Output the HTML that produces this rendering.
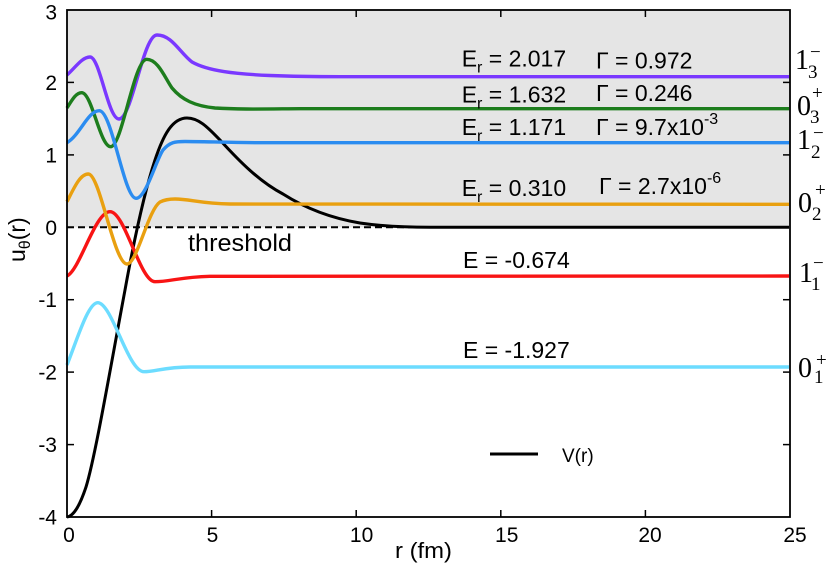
<!DOCTYPE html>
<html>
<head>
<meta charset="utf-8">
<style>
html,body{margin:0;padding:0;background:#fff;}
svg{display:block;}
text{font-family:"Liberation Sans",sans-serif;fill:#000;}
.serif{font-family:"Liberation Serif",serif;}
</style>
</head>
<body>
<svg width="830" height="567" viewBox="0 0 830 567" xmlns="http://www.w3.org/2000/svg">
  <rect x="67" y="10" width="723" height="217.3" fill="#e5e5e5"/>

  <line x1="67" y1="227.3" x2="789" y2="227.3" stroke="#000" stroke-width="2" stroke-dasharray="7,4"/>

  <path d="M67,517 C74,516 80,505 86,487 C95,458 110,370 125,290 C135,235 145,190 155,160 C163,136 172,118 187,118 C200,118 210,130 220,140 C240,162 260,182 283,194 C305,208 330,218 360,223 C380,226 400,227.3 430,227.3 L789,227.3" fill="none" stroke="#000" stroke-width="3"/>

  <path d="M67,365 C77,340 88,302.7 97.7,302.7 C112,302.7 128,371.7 144,371.7 C155,371.7 165,367 190,367 L789,367" fill="none" stroke="#6cdcff" stroke-width="3.4"/>

  <path d="M67,276 C80,270 95,211.7 110,211.7 C125,211.7 140,281.7 155,281.7 C170,281.7 180,277 210,276.3 L789,276" fill="none" stroke="#f81414" stroke-width="3.4"/>

  <path d="M67,201.7 C74,188 80,174 88.3,174 C100,174 114,264 127,264 C137,264 148,210 160,202 C165,199.5 170,199 175,199 C190,199 200,203.5 230,204 L789,204.3" fill="none" stroke="#e9a010" stroke-width="3.4"/>

  <path d="M67,75 C75,68 82,57 90,57 C100,57 108,119 119,119 C132,119 143,35 157,35 C172,35 180,53 192,62 C208,71 235,74 270,75.5 C290,76.3 310,76.7 340,76.7 L789,76.7" fill="none" stroke="#7a38ff" stroke-width="3.4"/>

  <path d="M67,108 C72,100 76,92.7 81.7,92.7 C92,92.7 100,146.7 110.7,146.7 C122,146.7 134,59.3 146.7,59.3 C158,59.3 165,78 172,88 C182,100 195,106 215,108 C240,109.5 260,109 300,108.7 L789,108.7" fill="none" stroke="#1d7d1d" stroke-width="3.4"/>

  <path d="M67,142.7 C80,135 88,110.7 99.3,110.7 C112,110.7 124,198.3 136,198.3 C146,198.3 156,160 163,150 C170,142 175,141.5 185,141.5 C200,141.5 230,142.5 260,142.7 L789,142.7" fill="none" stroke="#2b8cf0" stroke-width="3.4"/>

  <rect x="67" y="10" width="723" height="507" fill="none" stroke="#000" stroke-width="1.8"/>

  <g stroke="#000" stroke-width="1.5">
    <line x1="67" y1="82.4" x2="74" y2="82.4"/>
    <line x1="67" y1="154.9" x2="74" y2="154.9"/>
    <line x1="67" y1="227.3" x2="74" y2="227.3"/>
    <line x1="67" y1="299.7" x2="74" y2="299.7"/>
    <line x1="67" y1="372.1" x2="74" y2="372.1"/>
    <line x1="67" y1="444.6" x2="74" y2="444.6"/>
    <line x1="783" y1="82.4" x2="790" y2="82.4"/>
    <line x1="783" y1="154.9" x2="790" y2="154.9"/>
    <line x1="783" y1="299.7" x2="790" y2="299.7"/>
    <line x1="783" y1="372.1" x2="790" y2="372.1"/>
    <line x1="783" y1="444.6" x2="790" y2="444.6"/>
    <line x1="211.6" y1="517" x2="211.6" y2="510"/>
    <line x1="356.2" y1="517" x2="356.2" y2="510"/>
    <line x1="500.8" y1="517" x2="500.8" y2="510"/>
    <line x1="645.4" y1="517" x2="645.4" y2="510"/>
    <line x1="211.6" y1="10" x2="211.6" y2="17"/>
    <line x1="356.2" y1="10" x2="356.2" y2="17"/>
    <line x1="500.8" y1="10" x2="500.8" y2="17"/>
    <line x1="645.4" y1="10" x2="645.4" y2="17"/>
  </g>

  <g font-size="21" text-anchor="end">
    <text x="57" y="19.5">3</text>
    <text x="57" y="90">2</text>
    <text x="57" y="162.5">1</text>
    <text x="57" y="235">0</text>
    <text x="57" y="307">-1</text>
    <text x="57" y="379.5">-2</text>
    <text x="57" y="452">-3</text>
    <text x="57" y="524.5">-4</text>
  </g>

  <g font-size="21" text-anchor="middle">
    <text x="69" y="542">0</text>
    <text x="212.5" y="542">5</text>
    <text x="361.6" y="542">10</text>
    <text x="506.7" y="542">15</text>
    <text x="650" y="542">20</text>
    <text x="795" y="542">25</text>
  </g>

  <text x="395" y="558" font-size="22" textLength="57" lengthAdjust="spacingAndGlyphs">r (fm)</text>
  <g transform="translate(25,262) rotate(-90)">
    <text x="0" y="0" font-size="23">u<tspan font-size="16" dy="5">θ</tspan><tspan dy="-5">(r)</tspan></text>
  </g>

  <text x="188" y="251" font-size="24" textLength="104" lengthAdjust="spacingAndGlyphs">threshold</text>

  <g font-size="23">
    <text x="461.7" y="66.7">E<tspan font-size="16" dy="6">r</tspan><tspan dy="-6"> = 2.017</tspan></text>
    <text x="461.7" y="102.7">E<tspan font-size="16" dy="6">r</tspan><tspan dy="-6"> = 1.632</tspan></text>
    <text x="461.7" y="135">E<tspan font-size="16" dy="6">r</tspan><tspan dy="-6"> = 1.171</tspan></text>
    <text x="461.7" y="196">E<tspan font-size="16" dy="6">r</tspan><tspan dy="-6"> = 0.310</tspan></text>
    <text x="463" y="268">E = -0.674</text>
    <text x="463" y="358">E = -1.927</text>

    <text x="596" y="68.3">Γ = 0.972</text>
    <text x="596" y="101">Γ = 0.246</text>
    <text x="596" y="135">Γ = 9.7x10<tspan font-size="16" dy="-11">-3</tspan></text>
    <text x="599" y="194">Γ = 2.7x10<tspan font-size="16" dy="-11">-6</tspan></text>
  </g>

  <line x1="490" y1="454" x2="538" y2="454" stroke="#000" stroke-width="3"/>
  <text x="562" y="462" font-size="19">V(r)</text>

  <g class="serif">
    <text class="serif" x="795" y="69" font-size="28">1</text>
    <text class="serif" x="810" y="58" font-size="19">−</text>
    <text class="serif" x="808" y="78" font-size="19">3</text>

    <text class="serif" x="797" y="115" font-size="28">0</text>
    <text class="serif" x="812" y="99" font-size="19">+</text>
    <text class="serif" x="810" y="123" font-size="19">3</text>

    <text class="serif" x="797" y="149" font-size="28">1</text>
    <text class="serif" x="813" y="139" font-size="19">−</text>
    <text class="serif" x="811" y="158" font-size="19">2</text>

    <text class="serif" x="798" y="212" font-size="28">0</text>
    <text class="serif" x="815" y="196" font-size="19">+</text>
    <text class="serif" x="812" y="220" font-size="19">2</text>

    <text class="serif" x="799" y="282" font-size="28">1</text>
    <text class="serif" x="813" y="269" font-size="19">−</text>
    <text class="serif" x="811" y="290" font-size="19">1</text>

    <text class="serif" x="798" y="377" font-size="28">0</text>
    <text class="serif" x="816" y="366" font-size="19">+</text>
    <text class="serif" x="814" y="383" font-size="19">1</text>
  </g>
</svg>
</body>
</html>
